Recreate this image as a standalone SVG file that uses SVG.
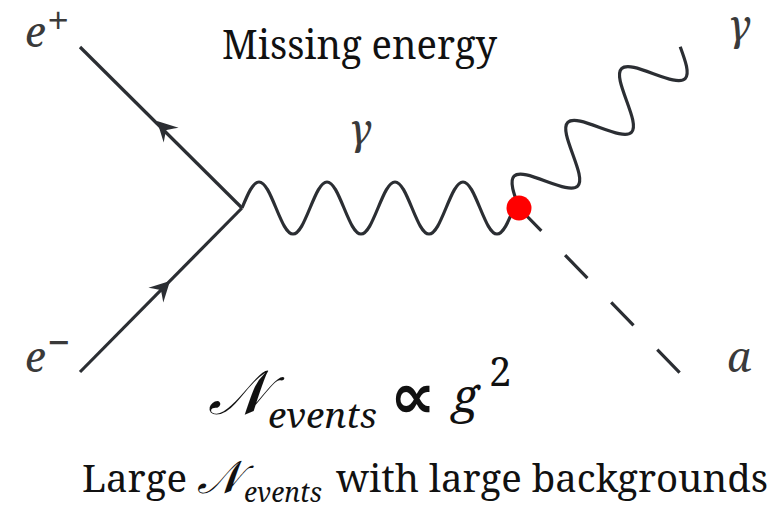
<svg xmlns="http://www.w3.org/2000/svg" width="778" height="505" viewBox="0 0 778 505">
<style>
.ln{fill:none;stroke:#2b2e33;stroke-width:3.2;stroke-linecap:butt;stroke-linejoin:round}
text{font-family:'Noto Serif','DejaVu Serif',serif}
.lbl{font-style:italic;fill:#3a3a3a}
.sup{fill:#3a3a3a}
.txt{fill:#111}
.it{font-style:italic;fill:#111}
.cal{font-family:'DejaVu Serif','Noto Serif',serif;font-style:italic;fill:#111}
.sym{font-family:'DejaVu Sans',sans-serif;font-weight:bold;fill:#111}
</style>
<defs>
<path id="ah" d="M0,0 L-20,-10.5 Q-14,-2 -13,0 Q-14,2 -20,10.5 Z" fill="#2b2e33"/>
</defs>
<rect width="778" height="505" fill="#fff"/>
<g id="connectors">
  <g id="eplus-line">
    <path class="ln" d="M80,47 L242,208"/>
    <use href="#ah" transform="translate(157,121) rotate(-135)"/>
  </g>
  <g id="eminus-line">
    <path class="ln" d="M80,372 L242,208"/>
    <use href="#ah" transform="translate(170,281) rotate(-45)"/>
  </g>
  <path id="photon-internal" class="ln" d="M242,208
    c 5.68,-13.65 10.82,-26 17,-26 c 6.18,0 11.32,12.35 17,26 c 5.68,13.65 10.82,26 17,26 c 6.18,0 11.32,-12.35 17,-26
    c 5.68,-13.65 10.82,-26 17,-26 c 6.18,0 11.32,12.35 17,26 c 5.68,13.65 10.82,26 17,26 c 6.18,0 11.32,-12.35 17,-26
    c 5.68,-13.65 10.82,-26 17,-26 c 6.18,0 11.32,12.35 17,26 c 5.68,13.65 10.82,26 17,26 c 6.18,0 11.32,-12.35 17,-26
    c 5.68,-13.65 10.82,-26 17,-26 c 6.18,0 11.32,12.35 17,26 c 5.68,13.65 10.82,26 17,26 c 6.18,0 11.32,-12.35 17,-26"/>
  <path id="photon-out" class="ln" transform="translate(519,208) rotate(-45)" d="M0,0
    c 6.35,-13.65 12.1,-26 19,-26 c 6.9,0 12.65,12.35 19,26 c 6.35,13.65 12.1,26 19,26 c 6.9,0 12.65,-12.35 19,-26
    c 6.35,-13.65 12.1,-26 19,-26 c 6.9,0 12.65,12.35 19,26 c 6.35,13.65 12.1,26 19,26 c 6.9,0 12.65,-12.35 19,-26
    c 6.35,-13.65 12.1,-26 19,-26 c 6.9,0 12.65,12.35 19,26 c 6.35,13.65 12.1,26 19,26 c 6.9,0 12.65,-12.35 19,-26"/>
  <path id="axion" class="ln" d="M519,208 L680,373" stroke-dasharray="32 34"/>
</g>
<g id="vertex-dot"><circle cx="519" cy="208" r="12.5" fill="#ff0000"/></g>
<g id="label-eplus"><text class="lbl" x="25" y="47" font-size="42">e</text><text class="sup" x="47" y="35" font-size="40">+</text></g>
<g id="label-eminus"><text class="lbl" x="25" y="372" font-size="42">e</text><text class="sup" x="47" y="357" font-size="40">−</text></g>
<g id="label-gamma-int"><text class="lbl" x="349" y="144" font-size="42">γ</text></g>
<g id="label-gamma-out"><text class="lbl" x="728" y="40" font-size="42">γ</text></g>
<g id="label-a"><text class="lbl" x="727" y="372" font-size="42">a</text></g>
<g id="missing-energy"><text class="txt" x="222" y="59" font-size="40" textLength="275" lengthAdjust="spacingAndGlyphs">Missing energy</text></g>
<g id="formula">
  <text class="cal" x="208" y="414" font-size="62">𝒩</text>
  <text class="it" x="268" y="428" font-size="34" textLength="109" lengthAdjust="spacingAndGlyphs">events</text>
  <text class="sym" x="390" y="418" font-size="64">∝</text>
  <text class="it" x="452" y="413" font-size="48">g</text>
  <text class="txt" x="489" y="386" font-size="40">2</text>
</g>
<g id="bottom-text">
  <text class="txt" x="82" y="492" font-size="38" textLength="105" lengthAdjust="spacingAndGlyphs">Large</text>
  <text class="cal" x="197" y="493" font-size="46">𝒩</text>
  <text class="it" x="244" y="502" font-size="27" textLength="78" lengthAdjust="spacingAndGlyphs">events</text>
  <text class="txt" x="336" y="492" font-size="38" textLength="432" lengthAdjust="spacingAndGlyphs">with large backgrounds</text>
</g>
</svg>
